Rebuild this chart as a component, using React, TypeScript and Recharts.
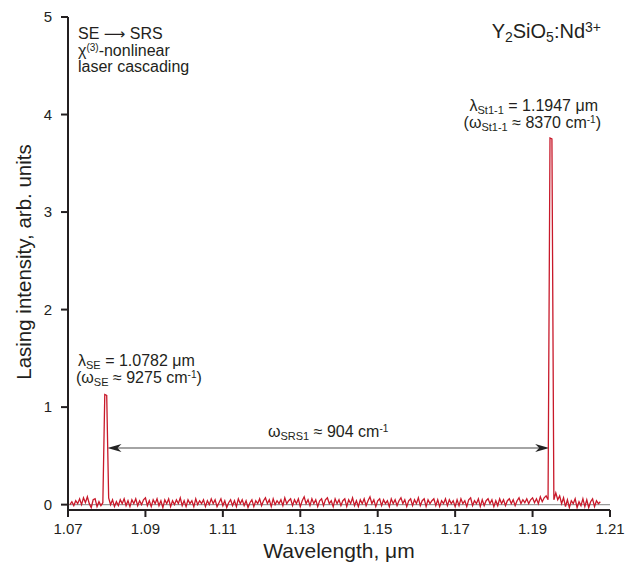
import React from 'react';
import { LineChart, Line, XAxis, YAxis, ReferenceLine } from 'recharts';

// Wavelength sampling of the spectrum (µm)
const wlStart = 1.0705;
const wlStep = 0.0005;

// Lasing intensity (arb. units)
const intensity: number[] = [
  0.00, 0.03, -0.01, 0.04, 0.01, 0.06, 0.00, 0.07, 0.02, 0.08, 0.01, -0.03, 0.05, 0.06, -0.02, 0.03, -0.01, 0.02, 1.13, 1.12, 0.07, 0.00, 0.05, -0.02, 0.03,
  -0.01, 0.05, 0.01, 0.06, -0.01, 0.04, -0.02, 0.05, 0.01, 0.06, -0.01, 0.04, 0.00, 0.05, 0.07, -0.01, 0.04, -0.02, 0.05, 0.01, 0.06, -0.01, 0.04, -0.03, 0.05,
  0.01, 0.06, -0.02, 0.04, 0.00, 0.05, 0.01, 0.07, -0.01, 0.04, -0.02, 0.05, 0.01, 0.04, -0.02, 0.06, 0.00, 0.04, 0.01, 0.05, -0.02, 0.04, 0.00, 0.06, 0.01,
  0.05, -0.02, 0.02, 0.06, -0.01, 0.04, -0.03, 0.02, 0.05, -0.01, 0.04, -0.02, 0.06, 0.01, 0.05, -0.01, 0.04, -0.03, 0.02, 0.05, -0.02, 0.04, 0.01, 0.06, -0.01,
  0.04, 0.07, 0.01, 0.05, -0.02, 0.06, 0.00, 0.04, 0.01, 0.05, -0.01, 0.07, 0.01, 0.04, 0.06, -0.01, 0.05, 0.01, 0.06, -0.02, 0.04, 0.08, 0.01, 0.05, -0.01,
  0.06, 0.01, 0.05, -0.02, 0.04, 0.06, -0.01, 0.05, 0.07, 0.01, 0.04, -0.02, 0.06, 0.01, 0.05, -0.01, 0.04, 0.06, -0.02, 0.05, 0.01, 0.07, -0.01, 0.04, -0.02,
  0.05, 0.01, 0.06, -0.01, 0.04, 0.08, 0.01, 0.05, -0.02, 0.04, 0.06, -0.01, 0.05, 0.01, 0.04, -0.02, 0.06, 0.01, 0.05, -0.01, 0.04, 0.07, 0.01, 0.05, -0.02,
  0.04, 0.06, -0.01, 0.05, 0.01, 0.07, -0.01, 0.04, 0.06, -0.02, 0.05, 0.01, 0.04, 0.06, -0.01, 0.05, -0.02, 0.04, 0.01, 0.06, -0.01, 0.05, 0.01, 0.04, -0.02,
  0.05, -0.01, 0.06, 0.01, 0.04, -0.02, 0.05, 0.07, -0.01, 0.04, 0.01, 0.06, -0.02, 0.05, -0.01, 0.04, 0.06, 0.01, 0.05, -0.02, 0.04, -0.01, 0.06, 0.01, 0.05,
  -0.01, 0.04, 0.06, 0.01, 0.05, -0.01, 0.04, 0.07, 0.01, 0.05, 0.02, 0.06, 0.01, 0.05, 0.07, 0.02, 0.06, 0.01, 0.08, 0.03, 0.07, 0.09, 0.05, 3.76, 3.75,
  0.05, 0.12, 0.05, 0.09, 0.01, 0.07, -0.02, 0.05, -0.03, 0.04, 0.01, 0.06, -0.03, 0.03, -0.01, 0.06, -0.02, 0.05, -0.03, 0.03, 0.06, -0.02, 0.04, 0.01, 0.03,
];

const xTicks = [1.07, 1.09, 1.11, 1.13, 1.15, 1.17, 1.19, 1.21];
const yTicks = [0, 1, 2, 3, 4, 5];
const xDomain: [number, number] = [1.07, 1.21];
const yDomain: [number, number] = [-0.055, 5];

// Arrow between the two lines (SE -> SRS shift)
const arrowFrom = { x: 1.0802, y: 0.58 };
const arrowTo = { x: 1.1943, y: 0.58 };

const data = intensity.map((v, i) => ({ w: +(wlStart + i * wlStep).toFixed(4), v }));

const FONT = '"Liberation Sans", Arial, Helvetica, sans-serif';
const INK = '#231f20';

const DoubleArrow = (props: any) => {
  const { x1, y1, x2, y2 } = props;
  const L = 14;
  const H = 4;
  return (
    <g>
      <line x1={x1 + 6} y1={y1} x2={x2 - 6} y2={y2} stroke="#4a4a4a" strokeWidth={1.1} />
      <polygon points={`${x1},${y1} ${x1 + L},${y1 - H} ${x1 + L - 4},${y1} ${x1 + L},${y1 + H}`} fill="#222" />
      <polygon points={`${x2},${y2} ${x2 - L},${y2 - H} ${x2 - L + 4},${y2} ${x2 - L},${y2 + H}`} fill="#222" />
    </g>
  );
};

export default function App() {
  const tickStyle = { fontSize: 15, fill: INK, fontFamily: FONT };
  return (
    <div style={{ position: 'absolute', left: 0, top: 0, width: 639, height: 568, background: '#fff' }}>
      <LineChart width={639} height={568} data={data} margin={{ top: 17, right: 29, bottom: 18, left: 18 }}>
        <XAxis
          dataKey="w"
          type="number"
          domain={xDomain}
          ticks={xTicks}
          allowDataOverflow
          tickFormatter={(v: number) => v.toFixed(2)}
          height={40}
          tick={tickStyle}
          tickSize={7}
          tickMargin={6}
          stroke={INK}
          strokeWidth={2}
        />
        <XAxis xAxisId="top" orientation="top" type="number" domain={xDomain} height={0} tick={false} tickLine={false} stroke={INK} strokeWidth={1.6} />
        <YAxis
          type="number"
          domain={yDomain}
          ticks={yTicks}
          allowDataOverflow
          width={50}
          tick={tickStyle}
          tickSize={7}
          tickMargin={9}
          stroke={INK}
          strokeWidth={2}
        />
        <YAxis yAxisId="right" orientation="right" type="number" domain={yDomain} width={0} tick={false} tickLine={false} stroke={INK} strokeWidth={1.6} />
        <ReferenceLine y={0} stroke="#9a9a9a" strokeWidth={1.2} />
        <ReferenceLine segment={[arrowFrom, arrowTo]} shape={DoubleArrow} />
        <Line dataKey="v" type="linear" stroke="#c8192a" strokeWidth={1.3} dot={false} isAnimationActive={false} />
      </LineChart>
      <svg width={639} height={568} style={{ position: 'absolute', left: 0, top: 0, pointerEvents: 'none' }} fontFamily={FONT} fill={INK}>
        <text x={78} y={39} fontSize={16}>
          SE <tspan fontFamily='"DejaVu Sans", sans-serif' fontSize={15}>⟶</tspan> SRS
        </text>
        <text x={78} y={56} fontSize={16}>
          χ<tspan fontSize={10} dy={-5}>(3)</tspan><tspan dy={5}>-nonlinear</tspan>
        </text>
        <text x={78} y={72} fontSize={16}>laser cascading</text>

        <text x={601} y={38} fontSize={20} textAnchor="end">
          Y<tspan fontSize={14} dy={4}>2</tspan><tspan dy={-4}>SiO</tspan><tspan fontSize={14} dy={4}>5</tspan><tspan dy={-4}>:Nd</tspan><tspan fontSize={14} dy={-6}>3+</tspan>
        </text>

        <text x={598} y={111} fontSize={16} textAnchor="end">
          λ<tspan fontSize={11} dy={3}>St1-1</tspan><tspan dy={-3}> = 1.1947 μm</tspan>
        </text>
        <text x={601} y={128} fontSize={16} textAnchor="end">
          (ω<tspan fontSize={11} dy={3}>St1-1</tspan><tspan dy={-3}> ≈ 8370 cm</tspan><tspan fontSize={10} dy={-5}>-1</tspan><tspan dy={5}>)</tspan>
        </text>

        <text x={78} y={366} fontSize={16}>
          λ<tspan fontSize={11} dy={3}>SE</tspan><tspan dy={-3}> = 1.0782 μm</tspan>
        </text>
        <text x={76} y={383} fontSize={16}>
          (ω<tspan fontSize={11} dy={3}>SE</tspan><tspan dy={-3}> ≈ 9275 cm</tspan><tspan fontSize={10} dy={-5}>-1</tspan><tspan dy={5}>)</tspan>
        </text>

        <text x={268} y={437} fontSize={16}>
          ω<tspan fontSize={11} dy={3}>SRS1</tspan><tspan dy={-3}> ≈ 904 cm</tspan><tspan fontSize={10} dy={-5}>-1</tspan>
        </text>

        <text x={339} y={558} fontSize={21} textAnchor="middle">Wavelength, μm</text>
        <text x={0} y={0} fontSize={20.5} textAnchor="middle" transform="translate(31,262) rotate(-90)">Lasing intensity, arb. units</text>
      </svg>
    </div>
  );
}
